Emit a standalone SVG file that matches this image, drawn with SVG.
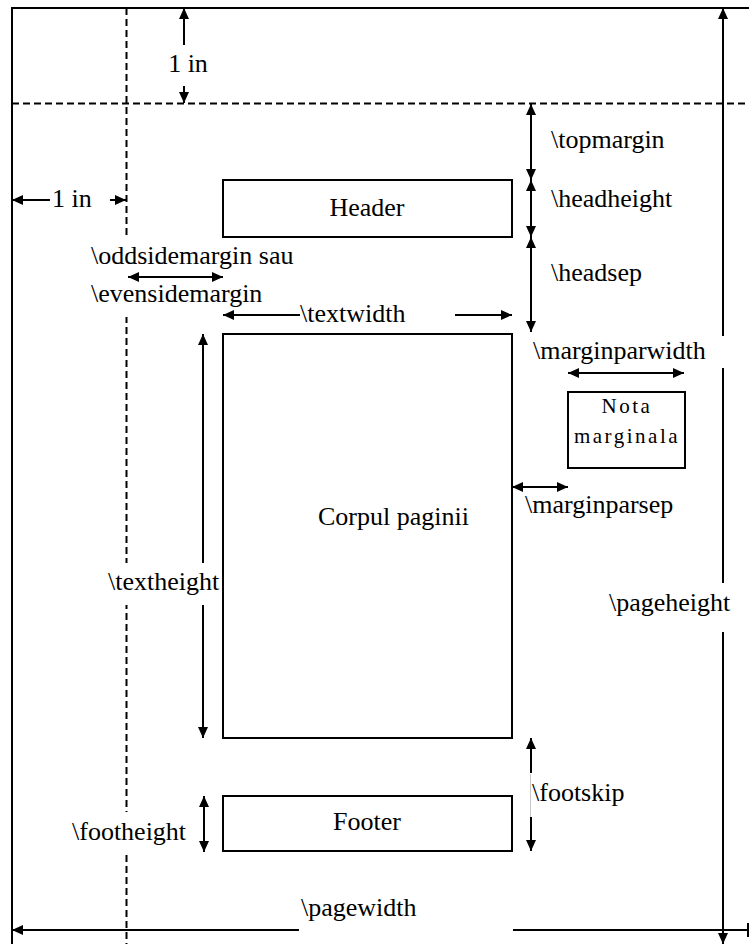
<svg xmlns="http://www.w3.org/2000/svg" width="749" height="944" viewBox="0 0 749 944" font-family="'Liberation Serif', 'Times New Roman', serif">
<style>
.ln{stroke:#000;stroke-width:2;fill:none}
.dash{stroke:#000;stroke-width:2;fill:none;stroke-dasharray:7,4}
.box{stroke:#000;stroke-width:2;fill:#fff}
.ar{stroke:#000;stroke-width:2;fill:none;marker-end:url(#ah)}
.ar2{stroke:#000;stroke-width:2;fill:none;marker-end:url(#ah);marker-start:url(#ah)}
.wb{fill:#fff;stroke:none}
text{font-family:'Liberation Serif','Times New Roman',serif;font-size:26px;fill:#000}
.mid{text-anchor:middle}
.nota{font-size:21px;letter-spacing:2.5px}
</style>
<defs>
<marker id="ah" markerUnits="userSpaceOnUse" markerWidth="12" markerHeight="10" refX="11" refY="5" orient="auto-start-reverse" viewBox="0 0 12 10">
<path d="M0,0 L11,5 L0,10 z" fill="#000"/>
</marker>
</defs>
<rect x="0" y="0" width="749" height="944" fill="#fff"/>
<g id="page">
<path class="ln" d="M12,944 V8 H749"/>
</g>
<g id="guides">
<path class="dash" d="M12,103.5 H749"/>
<path class="dash" d="M126.5,8 V944"/>
<path class="ln" d="M723,20 V932"/>
</g>
<g id="label-backgrounds">
<rect class="wb" x="88" y="238" width="212" height="79"/>
<rect class="wb" x="104" y="563" width="96" height="42"/>
<rect class="wb" x="68" y="812" width="124" height="41"/>
<rect class="wb" x="604" y="583" width="132" height="49"/>
<rect class="wb" x="536" y="336" width="200" height="32"/>
</g>
<g id="header"><rect class="box" x="223" y="180" width="289" height="57"/><text class="mid" x="367" y="216">Header</text></g>
<g id="body"><rect class="box" x="223" y="334" width="289" height="404"/><text x="318" y="525">Corpul paginii</text></g>
<g id="footer"><rect class="box" x="223" y="796" width="289" height="55"/><text class="mid" x="367" y="830">Footer</text></g>
<g id="nota"><rect class="box" x="568" y="392" width="117" height="76"/><text class="mid nota" x="627" y="413">Nota</text><text class="mid nota" x="627" y="443">marginala</text></g>
<g id="connectors">
<line class="ar" x1="184" y1="45" x2="184" y2="8"/>
<line class="ar" x1="184" y1="86" x2="184" y2="103"/>
<line class="ar" x1="50" y1="200" x2="12" y2="200"/>
<line class="ar" x1="110" y1="200" x2="126" y2="200"/>
<line class="ar2" x1="531" y1="104" x2="531" y2="180"/>
<line class="ar2" x1="531" y1="180" x2="531" y2="237"/>
<line class="ar2" x1="531" y1="237" x2="531" y2="332"/>
<line class="ar" x1="300" y1="315" x2="223" y2="315"/>
<line class="ar" x1="455" y1="315" x2="512" y2="315"/>
<line class="ar2" x1="128" y1="277" x2="223" y2="277"/>
<line class="ar" x1="203" y1="563" x2="203" y2="334"/>
<line class="ar" x1="203" y1="605" x2="203" y2="738"/>
<line class="ar2" x1="568" y1="373" x2="684" y2="373"/>
<line class="ar2" x1="512" y1="487" x2="568" y2="487"/>
<line class="ar" x1="531" y1="773" x2="531" y2="738"/>
<line class="ar" x1="531" y1="817" x2="531" y2="851"/>
<line stroke="#c8c8c8" stroke-width="1" x1="530.5" y1="774" x2="530.5" y2="817"/>
<line class="ar2" x1="204" y1="796" x2="204" y2="852"/>
<line class="ar" x1="299" y1="930" x2="12" y2="930"/>
<line class="ln" x1="513" y1="930" x2="748" y2="930"/>
<line class="ln" x1="748" y1="923" x2="748" y2="937"/>
<line class="ar" x1="723" y1="40" x2="723" y2="8"/>
<line class="ar" x1="723" y1="900" x2="723" y2="944"/>
</g>
<g id="labels">
<text class="mid" x="188" y="72">1 in</text>
<text x="52" y="207">1 in</text>
<text x="551" y="148">\topmargin</text>
<text x="551" y="207">\headheight</text>
<text x="551" y="281">\headsep</text>
<text x="91" y="264">\oddsidemargin sau</text>
<text x="91" y="302">\evensidemargin</text>
<text x="300" y="322">\textwidth</text>
<text x="533" y="359">\marginparwidth</text>
<text x="525" y="513">\marginparsep</text>
<text x="108" y="590">\textheight</text>
<text x="609" y="611">\pageheight</text>
<text x="532" y="801">\footskip</text>
<text x="72" y="840">\footheight</text>
<text x="301" y="916">\pagewidth</text>
</g>
</svg>
